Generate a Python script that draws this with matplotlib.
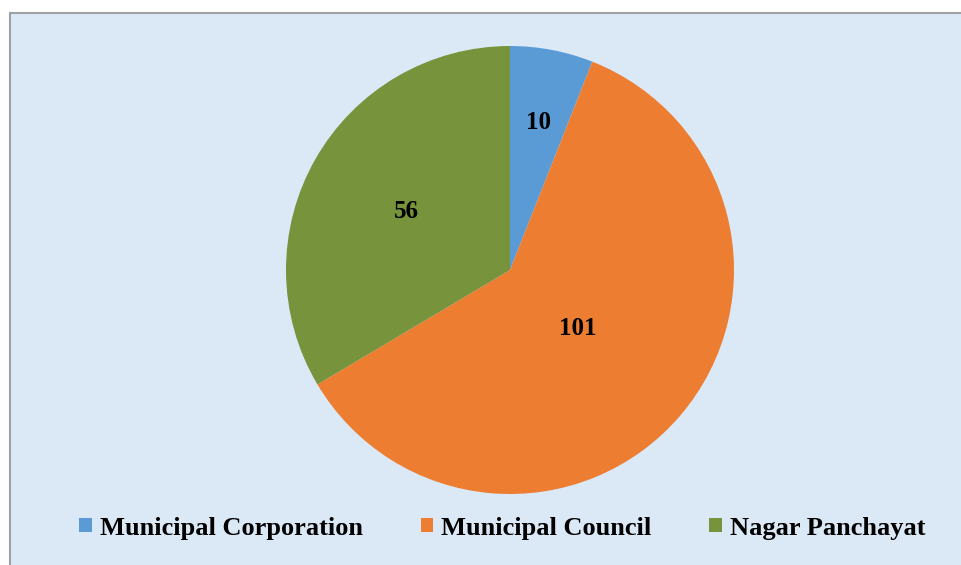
import matplotlib
matplotlib.use("Agg")
import matplotlib.pyplot as plt
import numpy as np
from matplotlib.patches import Rectangle

categories = ["Municipal Corporation", "Municipal Council", "Nagar Panchayat"]
values = [10, 101, 56]
colors = ["#5b9bd5", "#ed7d31", "#77933c"]
label_radius = [0.67, 0.40, 0.53]

W, H = 962, 565
fig = plt.figure(figsize=(W / 100, H / 100), dpi=100)
fig.patch.set_facecolor("white")

# chart area background with border
bg = Rectangle((10 / W, -0.02), 1 - 10 / W + 0.02, 1 - 13 / H + 0.02, transform=fig.transFigure,
               facecolor="#dbe8f6", edgecolor="#a0a0a0", linewidth=1.5, zorder=-5)
fig.patches.append(bg)

cx, cy, r = 510, 270, 224
ax = fig.add_axes([(cx - r) / W, (H - cy - r) / H, 2 * r / W, 2 * r / H])
ax.set_zorder(2)
ax.set_facecolor("none")
wedges, _ = ax.pie(values, colors=colors, startangle=90, counterclock=False,
                   radius=1.0, wedgeprops=dict(linewidth=0))
ax.set_xlim(-1, 1)
ax.set_ylim(-1, 1)
ax.set_aspect("equal")
ax.axis("off")

total = sum(values)
cum = 0
for v, rr in zip(values, label_radius):
    mid = (cum + v / 2) / total * 2 * np.pi
    cum += v
    x = rr * np.sin(mid)
    y = rr * np.cos(mid)
    ax.text(x, y, str(v), ha="center", va="center", fontsize=18,
            fontweight="bold", family="Liberation Serif", color="black")

leg = fig.legend(wedges, categories, loc="center", bbox_to_anchor=(0.522, 1 - 528 / H),
                 ncol=3, frameon=False, handlelength=0.47, handleheight=0.47,
                 handletextpad=0.3, columnspacing=2.2,
                 prop=dict(family="Liberation Serif", weight="bold", size=19))
leg.set_zorder(3)

fig.savefig("out.png", dpi=100)
